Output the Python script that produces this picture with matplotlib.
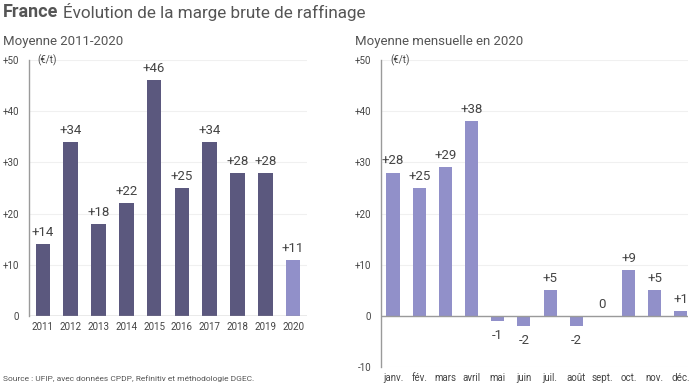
import matplotlib
matplotlib.use("Agg")
import matplotlib.pyplot as plt

plt.rcParams['font.family'] = ['Roboto', 'DejaVu Sans']

years = ['2011', '2012', '2013', '2014', '2015', '2016', '2017', '2018', '2019', '2020']
year_values = [14, 34, 18, 22, 46, 25, 34, 28, 28, 11]
months = ['janv.', 'fév.', 'mars', 'avril', 'mai', 'juin', 'juil.', 'août', 'sept.', 'oct.', 'nov.', 'déc.']
month_values = [28, 25, 29, 38, -1, -2, 5, -2, 0, 9, 5, 1]
left_ticks = [0, 10, 20, 30, 40, 50]
right_ticks = [-10, 0, 10, 20, 30, 40, 50]

DARK = '#5b587e'
LIGHT = '#9190c9'
AXIS = '#9a9a9a'
GRID = '#f0f0f0'
TXT = '#444444'

def fmt(v):
    return '0' if v == 0 else (f'+{v}' if v > 0 else f'{v}')

fig = plt.figure(figsize=(7, 3.85), dpi=100)

ax1 = fig.add_axes([29/700, 1-316/385, 278/700, 256/385])
ax2 = fig.add_axes([381/700, 1-367/385, 307/700, 307/385])

def style(ax, ticks):
    for s in ['top', 'right']:
        ax.spines[s].set_visible(False)
    ax.spines['left'].set_color(AXIS)
    ax.spines['left'].set_linewidth(1)
    ax.spines['bottom'].set_visible(False)
    ax.set_yticks(ticks)
    ax.set_yticklabels([fmt(t) for t in ticks], fontsize=7, color=TXT)
    ax.tick_params(axis='y', length=0, pad=7)
    ax.tick_params(axis='x', length=0, pad=4, labelsize=7, labelcolor=TXT)
    ax.grid(axis='y', color=GRID, linewidth=0.8)
    ax.set_axisbelow(True)
    ax.axhline(0, color=AXIS, linewidth=1, zorder=3)
    ax.text(0.03, 1.0, '(€/t)', transform=ax.transAxes, fontsize=7, color=TXT,
            va='center', ha='left')

x1 = list(range(len(years)))
colors1 = [DARK] * (len(years) - 1) + [LIGHT]
ax1.bar(x1, year_values, width=0.52, color=colors1, zorder=2)
ax1.set_xlim(-0.5, 9.5)
ax1.set_ylim(0, 50)
style(ax1, left_ticks)
ax1.set_xticks(x1)
ax1.set_xticklabels(years)
for xi, v in zip(x1, year_values):
    ax1.text(xi, v + 1.0, fmt(v), ha='center', va='bottom', fontsize=9.5, color=TXT)

x2 = list(range(len(months)))
ax2.bar(x2, month_values, width=0.5, color=LIGHT, zorder=2)
ax2.set_xlim(-0.46, 11.27)
ax2.set_ylim(-10, 50)
style(ax2, right_ticks)
ax2.set_xticks(x2)
ax2.set_xticklabels(months)
for xi, v in zip(x2, month_values):
    if v > 0:
        ax2.text(xi, v + 1.0, fmt(v), ha='center', va='bottom', fontsize=9.5, color=TXT)
    elif v < 0:
        ax2.text(xi, v - 1.5, fmt(v), ha='center', va='top', fontsize=9.5, color=TXT)
    else:
        ax2.text(xi, 1.0, fmt(v), ha='center', va='bottom', fontsize=9.5, color=TXT)

fig.text(3/700, 1-12/385, 'France', fontsize=13, fontweight='bold', color='#555555',
         ha='left', va='center')
fig.text(63/700, 1-12/385, 'Évolution de la marge brute de raffinage', fontsize=12.3,
         color='#555555', ha='left', va='center')
fig.text(3/700, 1-42/385, 'Moyenne 2011-2020', fontsize=9.5, color='#555555', ha='left', va='center')
fig.text(355/700, 1-42/385, 'Moyenne mensuelle en 2020', fontsize=9.5, color='#555555',
         ha='left', va='center')
fig.text(3/700, 1-379/385, 'Source : UFIP, avec données CPDP, Refinitiv et méthodologie DGEC.',
         fontsize=6, color='#555555', ha='left', va='center')

fig.savefig('out.png', dpi=100)
